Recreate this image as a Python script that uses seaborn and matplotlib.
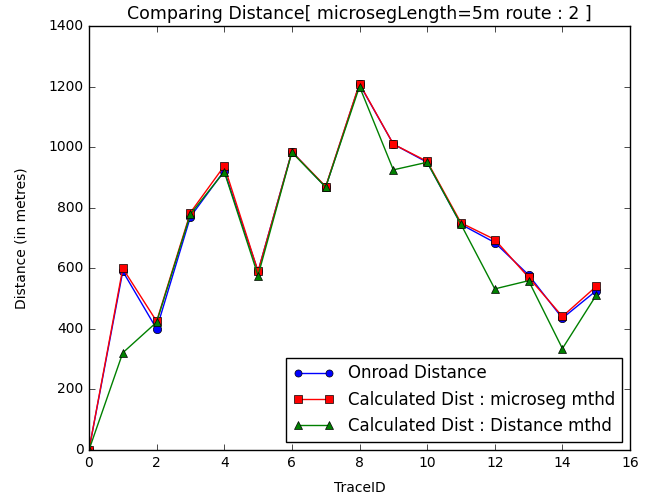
import matplotlib
matplotlib.use("Agg")
import matplotlib.pyplot as plt
import seaborn as sns
import pandas as pd

trace_ids = list(range(16))
onroad = [0, 590, 400, 770, 922, 590, 985, 868, 1208, 1010, 950, 745, 685, 578, 435, 526]
microseg = [0, 600, 425, 784, 938, 590, 985, 870, 1210, 1010, 953, 750, 695, 570, 441, 540]
distmthd = [0, 321, 422, 779, 919, 576, 983, 868, 1200, 925, 950, 745, 532, 559, 335, 511]

series_names = ["Onroad Distance", "Calculated Dist : microseg mthd", "Calculated Dist : Distance mthd"]
colors = ["blue", "red", "green"]
markers = ["o", "s", "^"]

plt.style.use("classic")
fig = plt.figure(figsize=(6.66, 5), dpi=100, facecolor="white")
ax = fig.add_axes([0.1336, 0.1, 0.8124, 0.848])

for name, vals, c, m in zip(series_names, [onroad, microseg, distmthd], colors, markers):
    df = pd.DataFrame({"TraceID": trace_ids, "Distance": vals})
    sns.lineplot(data=df, x="TraceID", y="Distance", ax=ax, color=c, marker=m,
                 markersize=6, markeredgecolor="black", markeredgewidth=0.5,
                 linewidth=1, label=name)

ax.set_xlim(0, 16)
ax.set_ylim(0, 1400)
ax.set_xticks(range(0, 17, 2))
ax.set_yticks(range(0, 1401, 200))
ax.tick_params(labelsize=10)
ax.set_xlabel("TraceID", fontsize=10, labelpad=8)
ax.set_ylabel("Distance (in metres)", fontsize=10, labelpad=14)
ax.set_title("Comparing Distance[ microsegLength=5m route : 2 ]", fontsize=12.5)
leg = ax.legend(loc="lower right", fontsize=12, numpoints=2, handlelength=2.5, markerscale=0.85)

fig.savefig("out.png", dpi=100, facecolor="white")
